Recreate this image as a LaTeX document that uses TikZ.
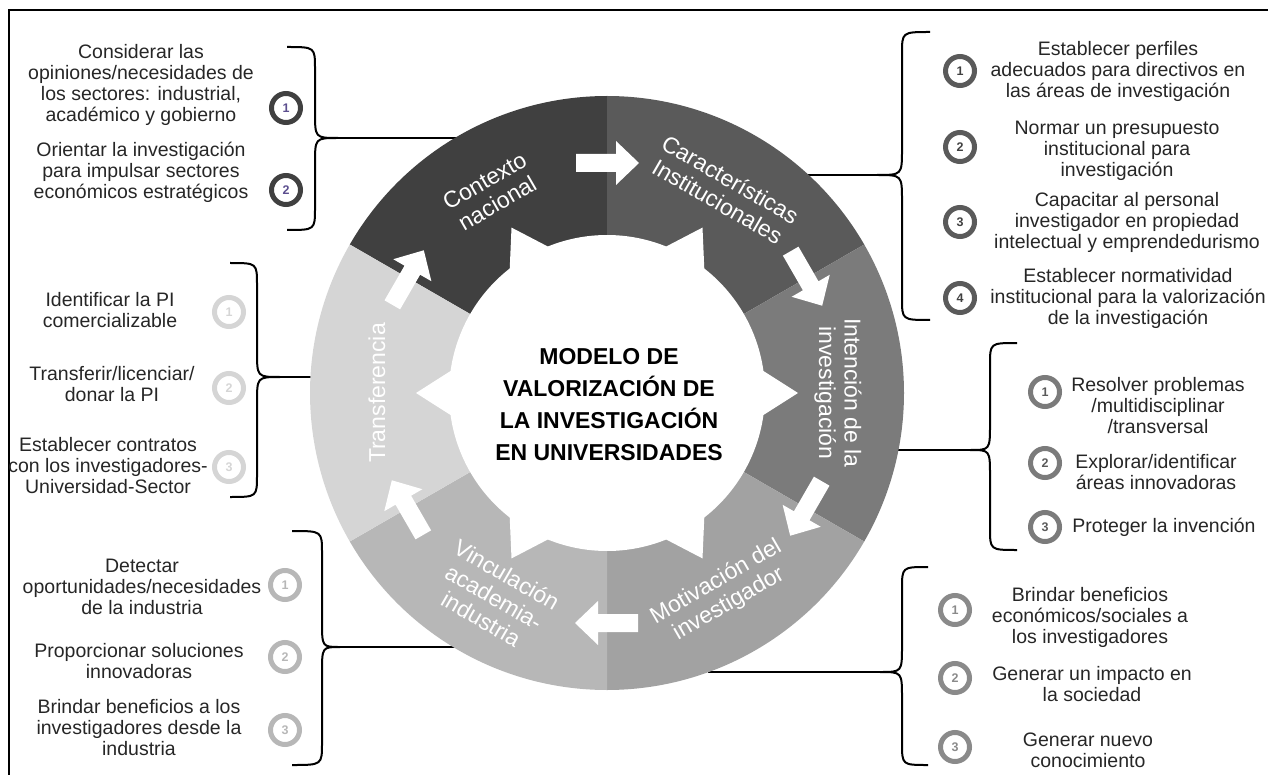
\documentclass[tikz,border=0pt]{standalone}
\usepackage{fontspec}
\setmainfont{Liberation Sans}
\definecolor{cA}{HTML}{404040}
\definecolor{cB}{HTML}{5A5A5A}
\definecolor{cC}{HTML}{7B7B7B}
\definecolor{cD}{HTML}{A2A2A2}
\definecolor{cE}{HTML}{B7B7B7}
\definecolor{cF}{HTML}{D5D5D5}
\definecolor{txt}{HTML}{262626}
\definecolor{purp}{HTML}{5B4E8E}
\newcommand\drawBrace[6]{%
  \draw[brc] (#1,#4) .. controls (#2,#4) .. (#2,#4+22) -- (#2,#5-26)
    .. controls (#2,#5) .. (#3,#5) .. controls (#2,#5) .. (#2,#5+26)
    -- (#2,#6-22) .. controls (#2,#6) .. (#1,#6);}
\begin{document}
\begin{tikzpicture}[x=1pt,y=-1pt,
  side/.style={align=center, font=\fontsize{19.5}{21}\selectfont, text=txt, inner sep=0pt},
  numc/.style={circle, line width=5pt, minimum size=29pt, inner sep=0pt, font=\fontsize{12.5}{12.5}\selectfont\bfseries},
  ringlbl/.style={align=center, font=\fontsize{23}{25.5}\selectfont, text=white, inner sep=0pt},
  brc/.style={line width=2pt, draw=black},
  conn/.style={line width=2pt, draw=black},
  arrowblk/.style={fill=white}]
\useasboundingbox (0,0) rectangle (1268,775);
% frame
\draw[line width=2pt] (9,776) -- (9,10) -- (1270,10);

% braces
\drawBrace{287}{315}{338}{47}{138}{230}
\drawBrace{230}{257}{280}{263}{377}{497}
\drawBrace{292}{322}{340}{531}{647}{765}
\drawBrace{930}{902}{877}{32}{175}{320}
\drawBrace{1017}{990}{970}{343}{450}{550}
\drawBrace{928}{902}{880}{567}{672}{765}

% connector coordinates
\coordinate (tTL) at (338,138);  \coordinate (rTL) at (462,138);
\coordinate (tLM) at (280,377);  \coordinate (rLM) at (315,377);
\coordinate (tBL) at (340,647);  \coordinate (rBL) at (455,647);
\coordinate (tTR) at (877,175);  \coordinate (rTR) at (805,175);
\coordinate (tRM) at (970,450);  \coordinate (rRM) at (895,450);
\coordinate (tBR) at (880,672);  \coordinate (rBR) at (708,672);
\draw[conn] (tTL) -- (rTL);
\draw[conn] (tLM) -- (rLM);
\draw[conn] (tBL) -- (rBL);
\draw[conn] (tTR) -- (rTR);
\draw[conn] (tRM) -- (rRM);
\draw[conn] (tBR) -- (rBR);

% ring
\coordinate (C) at (607,393);
\begin{scope}[shift={(607,393)}]
  \fill[cA] (0,0) -- (90:297pt) arc[start angle=90,end angle=150,radius=297pt] -- cycle;
  \fill[cB] (0,0) -- (30:297pt) arc[start angle=30,end angle=90,radius=297pt] -- cycle;
  \fill[cC] (0,0) -- (-30:297pt) arc[start angle=-30,end angle=30,radius=297pt] -- cycle;
  \fill[cD] (0,0) -- (-90:297pt) arc[start angle=-90,end angle=-30,radius=297pt] -- cycle;
  \fill[cE] (0,0) -- (-150:297pt) arc[start angle=-150,end angle=-90,radius=297pt] -- cycle;
  \fill[cF] (0,0) -- (150:297pt) arc[start angle=150,end angle=210,radius=297pt] -- cycle;
  % inner gear
  \fill[white] (-8:158pt) \foreach \k in {0,...,5} { -- ({60*\k-8}:158pt) -- ({60*\k}:191pt) -- ({60*\k+8}:158pt) arc[start angle={60*\k+8}, end angle={60*\k+52}, radius=158pt] } -- cycle;
  % arrows
  \foreach \t in {90,30,-30,-90,-150,150}
    \fill[arrowblk, shift={(\t:230pt)}, rotate=\t-90] (-31pt,-9pt) -- (9pt,-9pt) -- (9pt,-22pt) -- (32pt,0pt) -- (9pt,22pt) -- (9pt,9pt) -- (-31pt,9pt) -- cycle;
  % ring labels
  \node[ringlbl, rotate=30]  (lCtx) at (120:232pt) {Contexto\\nacional};
  \node[ringlbl, rotate=-30] (lCar) at (60:234pt) {Características\\Institucionales};
  \node[ringlbl, rotate=-90] (lInt) at (0:231pt) {Intención de la\\investigación};
  \node[ringlbl, rotate=30]  (lMot) at (-60:231pt) {Motivación del\\investigador};
  \node[ringlbl, rotate=-30] (lVin) at (-119:233pt) {Vinculación\\academia-\\industria};
  \node[ringlbl, rotate=90]  (lTra) at (180:230pt) {Transferencia};
\end{scope}

% title
\node[font=\fontsize{23}{32}\selectfont\bfseries, align=center, text=black] (title) at (609,405)
  {MODELO DE\\VALORIZACIÓN DE\\LA INVESTIGACIÓN\\EN UNIVERSIDADES};

% top-left group
\node[side] (tl1) at (141,85) {Considerar las\\opiniones/necesidades de\\los sectores: industrial,\\académico y gobierno};
\node[side] (tl2) at (141,172) {Orientar la investigación\\para impulsar sectores\\económicos estratégicos};
\node[numc, draw=cA, text=purp] (ntl1) at (286,108) {1};
\node[numc, draw=cA, text=purp] (ntl2) at (286,190) {2};

% left-middle group
\node[side] (lm1) at (110,310) {Identificar la PI\\comercializable};
\node[side] (lm2) at (112,384) {Transferir/licenciar/\\donar la PI};
\node[side] (lm3) at (108,466) {Establecer contratos\\con los investigadores-\\Universidad-Sector};
\node[numc, draw=cF, text=cF] (nlm1) at (229,312) {1};
\node[numc, draw=cF, text=cF] (nlm2) at (229,388) {2};
\node[numc, draw=cF, text=cF] (nlm3) at (229,467) {3};

% bottom-left group
\node[side] (bl1) at (142,587) {Detectar\\oportunidades/necesidades\\de la industria};
\node[side] (bl2) at (139,661) {Proporcionar soluciones\\innovadoras};
\node[side] (bl3) at (139,728) {Brindar beneficios a los\\investigadores desde la\\industria};
\node[numc, draw=cE, text=cE] (nbl1) at (285,585) {1};
\node[numc, draw=cE, text=cE] (nbl2) at (285,657) {2};
\node[numc, draw=cE, text=cE] (nbl3) at (285,730) {3};

% top-right group
\node[side] (tr1) at (1118,71) {Establecer perfiles\\adecuados para directivos en\\las áreas de investigación};
\node[side] (tr2) at (1117,151) {Normar un presupuesto\\institucional para\\investigación};
\node[side] (tr3) at (1127,222) {Capacitar al personal\\investigador en propiedad\\intelectual y emprendedurismo};
\node[side] (tr4) at (1128,298) {Establecer normatividad\\institucional para la valorización\\de la investigación};
\node[numc, draw=cB, text=cA] (ntr1) at (960,71) {1};
\node[numc, draw=cB, text=cA] (ntr2) at (960,147) {2};
\node[numc, draw=cB, text=cA] (ntr3) at (960,222) {3};
\node[numc, draw=cB, text=cA] (ntr4) at (960,298) {4};

% right-middle group
\node[side] (rm1) at (1158,406) {Resolver problemas\\/multidisciplinar\\/transversal};
\node[side] (rm2) at (1156,472) {Explorar/identificar\\áreas innovadoras};
\node[side] (rm3) at (1164,527) {Proteger la invención};
\node[numc, draw=cC, text=cB] (nrm1) at (1045,392) {1};
\node[numc, draw=cC, text=cB] (nrm2) at (1045,463) {2};
\node[numc, draw=cC, text=cB] (nrm3) at (1045,527) {3};

% bottom-right group
\node[side] (br1) at (1090,617) {Brindar beneficios\\económicos/sociales a\\los investigadores};
\node[side] (br2) at (1092,684) {Generar un impacto en\\la sociedad};
\node[side] (br3) at (1088,750) {Generar nuevo\\conocimiento};
\node[numc, draw=cD!85!black, text=cD!85!black] (nbr1) at (955,610) {1};
\node[numc, draw=cD!85!black, text=cD!85!black] (nbr2) at (955,678) {2};
\node[numc, draw=cD!85!black, text=cD!85!black] (nbr3) at (955,747) {3};
\end{tikzpicture}
\end{document}
